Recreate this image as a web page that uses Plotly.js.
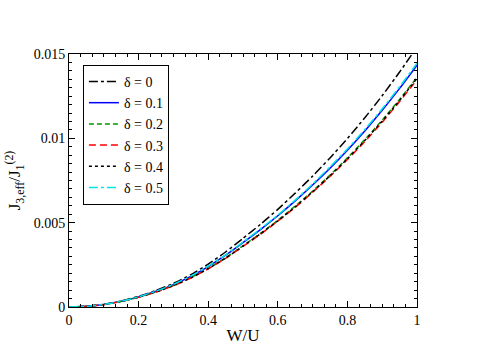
<!DOCTYPE html>
<html lang="en">
<head>
    <meta charset="UTF-8">
    <script src="https://cdn.plot.ly/plotly-3.0.1.min.js"></script>
    <style>
        html, body, #plot {
            width: 498px;
            height: 352px;
            margin: 0;
            padding: 0;
            overflow: hidden;
            background: #ffffff;
        }
    </style>
</head>
<body>
<div id="plot"></div>
<script>
    // W/U values shared by every curve
    const wu = [0, 0.05, 0.1, 0.15, 0.2, 0.25, 0.3, 0.35, 0.4, 0.45, 0.5,
                0.55, 0.6, 0.65, 0.7, 0.75, 0.8, 0.85, 0.9, 0.95, 1];

    // J_3,eff / J_1^(2), one array per delta
    const d00 = [0, 0.00004, 0.00016, 0.00036, 0.00063, 0.00098, 0.00140, 0.00192, 0.00254, 0.00326, 0.00407,
                 0.00490, 0.00579, 0.00675, 0.00776, 0.00884, 0.00999, 0.01122, 0.01253, 0.01393, 0.01542];
    const d01 = [0, 0.00004, 0.00015, 0.00034, 0.00060, 0.00093, 0.00133, 0.00182, 0.00240, 0.00307, 0.00382,
                 0.00459, 0.00541, 0.00629, 0.00723, 0.00823, 0.00930, 0.01044, 0.01166, 0.01296, 0.01434];
    const d02 = [0, 0.00004, 0.00015, 0.00033, 0.00058, 0.00090, 0.00127, 0.00174, 0.00228, 0.00292, 0.00363,
                 0.00436, 0.00514, 0.00598, 0.00687, 0.00782, 0.00884, 0.00992, 0.01108, 0.01231, 0.01362];
    const d03 = [0, 0.00004, 0.00014, 0.00033, 0.00058, 0.00089, 0.00126, 0.00172, 0.00226, 0.00289, 0.00359,
                 0.00431, 0.00509, 0.00591, 0.00680, 0.00774, 0.00874, 0.00981, 0.01096, 0.01218, 0.01348];
    const d04 = [0, 0.00004, 0.00015, 0.00033, 0.00058, 0.00090, 0.00127, 0.00173, 0.00227, 0.00290, 0.00361,
                 0.00434, 0.00511, 0.00594, 0.00683, 0.00778, 0.00879, 0.00987, 0.01102, 0.01225, 0.01355];
    const d05 = [0, 0.00004, 0.00015, 0.00034, 0.00060, 0.00094, 0.00134, 0.00183, 0.00242, 0.00309, 0.00385,
                 0.00463, 0.00545, 0.00634, 0.00729, 0.00830, 0.00937, 0.01052, 0.01175, 0.01306, 0.01445];

    const names = ['δ = 0', 'δ = 0.1', 'δ = 0.2', 'δ = 0.3', 'δ = 0.4', 'δ = 0.5'];
    const series = [d00, d01, d02, d03, d04, d05];
    const colors = ['#000000', '#0000ff', '#009600', '#ff0000', '#000000', '#00e5e5'];
    const dashes = ['dashdot', 'solid', '5px,3px', '7px,4px', 'dot', 'dashdot'];

    const xTicks = [0, 0.2, 0.4, 0.6, 0.8, 1];
    const xTickText = ['0', '0.2', '0.4', '0.6', '0.8', '1'];
    const yTicks = [0, 0.005, 0.01, 0.015];
    const yTickText = ['0', '0.005', '0.01', '0.015'];

    const serif = 'Liberation Serif, serif';

    const traces = series.map((ys, i) => ({
        x: wu,
        y: ys,
        type: 'scatter',
        mode: 'lines',
        name: names[i],
        line: {color: colors[i], width: 1.5, dash: dashes[i], shape: 'spline', smoothing: 0.5}
    }));

    const layout = {
        width: 498,
        height: 352,
        margin: {l: 69, r: 81, t: 54, b: 45, pad: 0},
        paper_bgcolor: '#ffffff',
        plot_bgcolor: '#ffffff',
        font: {family: serif, size: 14, color: '#000000'},
        showlegend: true,
        legend: {
            x: 0.04, y: 0.957,
            xanchor: 'left', yanchor: 'top',
            bgcolor: '#ffffff',
            bordercolor: '#000000',
            borderwidth: 1,
            itemwidth: 30,
            tracegroupgap: 0,
            font: {family: serif, size: 14, color: '#000000'}
        },
        xaxis: {
            range: [0, 1],
            tickvals: xTicks,
            ticktext: xTickText,
            ticks: 'inside',
            ticklen: 6,
            tickcolor: '#000000',
            minor: {dtick: 0.2 / 6, ticks: 'inside', ticklen: 3, tickcolor: '#000000', showgrid: false},
            showline: true,
            linecolor: '#000000',
            linewidth: 1,
            mirror: 'ticks',
            showgrid: false,
            zeroline: false,
            tickfont: {family: serif, size: 14},
            title: {text: 'W/U', font: {family: serif, size: 17}, standoff: 2}
        },
        yaxis: {
            range: [0, 0.015],
            tickvals: yTicks,
            ticktext: yTickText,
            ticks: 'inside',
            ticklen: 6,
            tickcolor: '#000000',
            minor: {dtick: 0.0005, ticks: 'inside', ticklen: 3, tickcolor: '#000000', showgrid: false},
            showline: true,
            linecolor: '#000000',
            linewidth: 1,
            mirror: 'ticks',
            showgrid: false,
            zeroline: false,
            tickfont: {family: serif, size: 14},
            title: {
                text: 'J<sub>3,eff</sub>/J<sub>1</sub><sup>(2)</sup>',
                font: {family: serif, size: 17},
                standoff: 8
            }
        }
    };

    Plotly.newPlot('plot', traces, layout, {displayModeBar: false, staticPlot: true});
</script>
</body>
</html>
